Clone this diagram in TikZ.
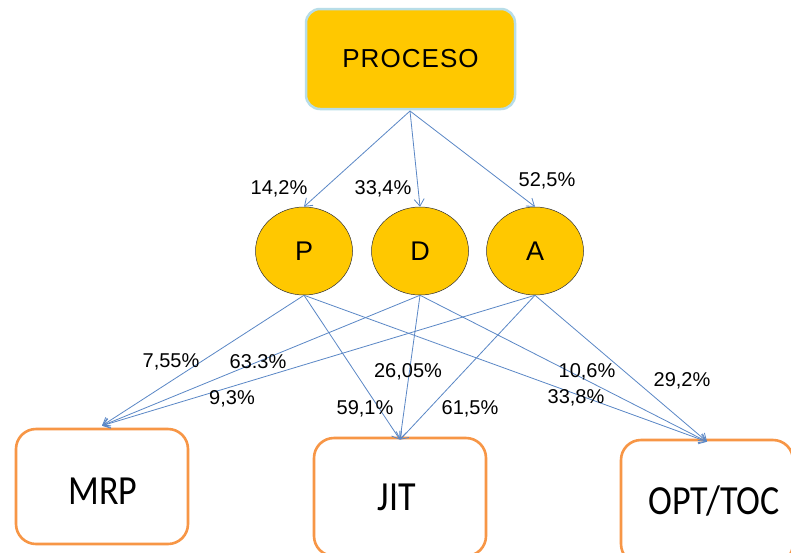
\documentclass[tikz,border=0pt]{standalone}
\usepackage{fontspec}
\setmainfont{Liberation Sans}
\newfontfamily\calib{Carlito}
\usetikzlibrary{shapes.geometric,arrows.meta}
\definecolor{gold}{HTML}{FFC800}
\definecolor{lblue}{HTML}{B7DDE8}
\definecolor{orng}{HTML}{F79646}
\definecolor{arr}{HTML}{5A87C6}
\begin{document}
\begin{tikzpicture}[x=1pt,y=-1pt,
  topbox/.style={draw=lblue,line width=2.5pt,fill=gold,rounded corners=14pt,minimum width=209pt,minimum height=100pt,inner sep=0pt,font=\fontsize{26}{26}\selectfont},
  circ/.style={ellipse,draw=black!80,line width=0.5pt,fill=gold,minimum width=97pt,minimum height=88pt,inner sep=0pt,font=\fontsize{27}{27}\selectfont},
  botbox/.style={draw=orng,line width=2.6pt,fill=white,rounded corners=20pt,minimum width=172pt,inner sep=0pt},
  btxt/.style={font=\calib\fontsize{36}{36}\selectfont},
  lbl/.style={font=\fontsize{20}{20}\selectfont,inner sep=0pt},
  con/.style={draw=arr,line width=0.8pt,-{Straight Barb[length=7pt,width=10pt]}}]
\useasboundingbox (0,0) rectangle (791,552);
\fill[white] (0,0) rectangle (791,552);
\node[topbox] (proc) at (410.5,59) {\addfontfeature{LetterSpace=4}PROCESO};
\node[circ] (P) at (304,251) {P};
\node[circ] (D) at (420,251) {D};
\node[circ] (A) at (535,251) {A};
\node[botbox,minimum height=115pt] (mrp) at (102,486.5) {};
\node[botbox,minimum height=118pt] (jit) at (400,497) {};
\node[botbox,minimum height=124pt] (opt) at (707,502) {};
\node[btxt] at (103,491) {\scalebox{1}[1.15]{MRP}};
\node[btxt] at (397,497) {\scalebox{1}[1.15]{JIT}};
\node[btxt] at (714,501) {\scalebox{1}[1.15]{OPT/TOC}};
\coordinate (ps) at (410,111);
\draw[con] (ps) -- (P.north);
\draw[con] (ps) -- (D.north);
\draw[con] (ps) -- (A.north);
\foreach \s in {P,D,A}{
  \draw[con] (\s.south) -- ([yshift=2pt]mrp.north);
  \draw[con] (\s.south) -- ([yshift=-3pt]jit.north);
  \draw[con] (\s.south) -- ([yshift=-3pt]opt.north);
}
\node[lbl] at (279,189) {14,2\%};
\node[lbl] at (383,189) {33,4\%};
\node[lbl] at (547,181) {52,5\%};
\node[lbl] at (171,362) {7,55\%};
\node[lbl] at (258,362) {63.3\%};
\node[lbl] at (232,399) {9,3\%};
\node[lbl] at (408,372) {26,05\%};
\node[lbl] at (365,409) {59,1\%};
\node[lbl] at (470,409) {61,5\%};
\node[lbl] at (587,372) {10,6\%};
\node[lbl] at (576,398) {33,8\%};
\node[lbl] at (682,381) {29,2\%};
\end{tikzpicture}
\end{document}
